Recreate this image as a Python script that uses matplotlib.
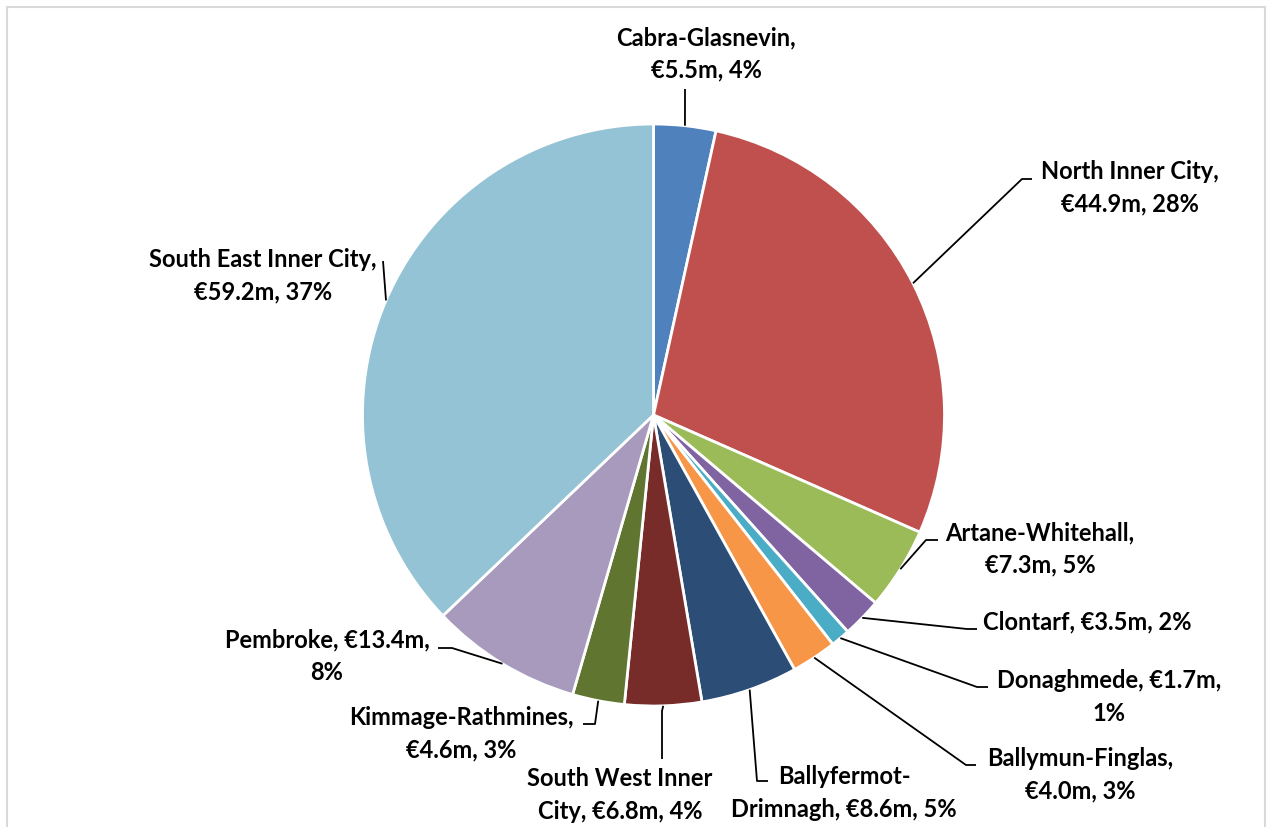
import matplotlib.pyplot as plt
from matplotlib.patches import Rectangle
import math

# data (values in EUR millions, shares as printed)
names = ['Cabra-Glasnevin', 'North Inner City', 'Artane-Whitehall', 'Clontarf',
         'Donaghmede', 'Ballymun-Finglas', 'Ballyfermot-\nDrimnagh',
         'South West Inner\nCity', 'Kimmage-Rathmines', 'Pembroke',
         'South East Inner City']
values = [5.5, 44.9, 7.3, 3.5, 1.7, 4.0, 8.6, 6.8, 4.6, 13.4, 59.2]
shares = [4, 28, 5, 2, 1, 3, 5, 4, 3, 8, 37]

colors = ['#4F81BD', '#C0504D', '#9BBB59', '#8064A2', '#4BACC6', '#F79646',
          '#2C4D75', '#772C2A', '#5F7530', '#A89ABD', '#93C3D4']

# how each label wraps
formats = ['{n},\n€{v}m, {p}%', '{n},\n€{v}m, {p}%', '{n},\n€{v}m, {p}%',
           '{n}, €{v}m, {p}%', '{n}, €{v}m,\n{p}%', '{n},\n€{v}m, {p}%',
           '{n}, €{v}m, {p}%', '{n}, €{v}m, {p}%', '{n},\n€{v}m, {p}%',
           '{n}, €{v}m,\n{p}%', '{n},\n€{v}m, {p}%']

# layout, in figure pixels (y down)
W, H = 1267, 828
cx, cy, R = 653.5, 416, 291
label_pos = [(706, 54), (1130, 188), (1040, 549), (1087, 622), (1109, 697),
             (1080, 775), (844, 793), (620, 795), (461, 734), (327, 656),
             (263, 276)]
# leader: start near the label, optional elbow, then the wedge rim
leader_pts = [[(685, 90)], [(1032, 180), (1022, 180)], [(938, 541), (926, 541)],
              [(977, 630), (967, 630)], [(988, 688), (977, 688)],
              [(976, 766), (966, 766)], [(768, 782), (757, 782)],
              [(662, 760), (662, 712)], [(583, 725), (595, 725)],
              [(438, 649), (452, 649)], [(383, 262)]]

plt.rcParams['font.family'] = ['Lato', 'DejaVu Sans']

fig = plt.figure(figsize=(W / 100, H / 100), dpi=100)
ax = fig.add_axes([0, 0, 1, 1])


def fy(y):
    return H - y


ax.pie(values, colors=colors, startangle=90, counterclock=False,
       center=(cx, fy(cy)), radius=R,
       wedgeprops=dict(edgecolor='white', linewidth=2))

ax.set_xlim(0, W)
ax.set_ylim(0, H)
ax.set_aspect('equal')
ax.axis('off')

ax.add_patch(Rectangle((7, fy(H + 10)), 1258, H + 2, fill=False,
                       edgecolor='#D9D9D9', linewidth=1.5))

total = sum(values)
cum = 0
for i, v in enumerate(values):
    mid = (cum + v / 2) / total * 2 * math.pi
    cum += v
    rx = cx + R * math.sin(mid)
    ry = cy - R * math.cos(mid)
    pts = leader_pts[i] + [(rx, ry)]
    ax.plot([p[0] for p in pts], [fy(p[1]) for p in pts], color='black',
            lw=1.3, solid_capstyle='butt')
    txt = formats[i].format(n=names[i], v=f'{v:.1f}', p=shares[i])
    lx, ly = label_pos[i]
    ax.text(lx, fy(ly), txt, ha='center', va='center', multialignment='center',
            fontsize=17, fontweight='bold', linespacing=1.5)

plt.savefig('out.png', dpi=100)
